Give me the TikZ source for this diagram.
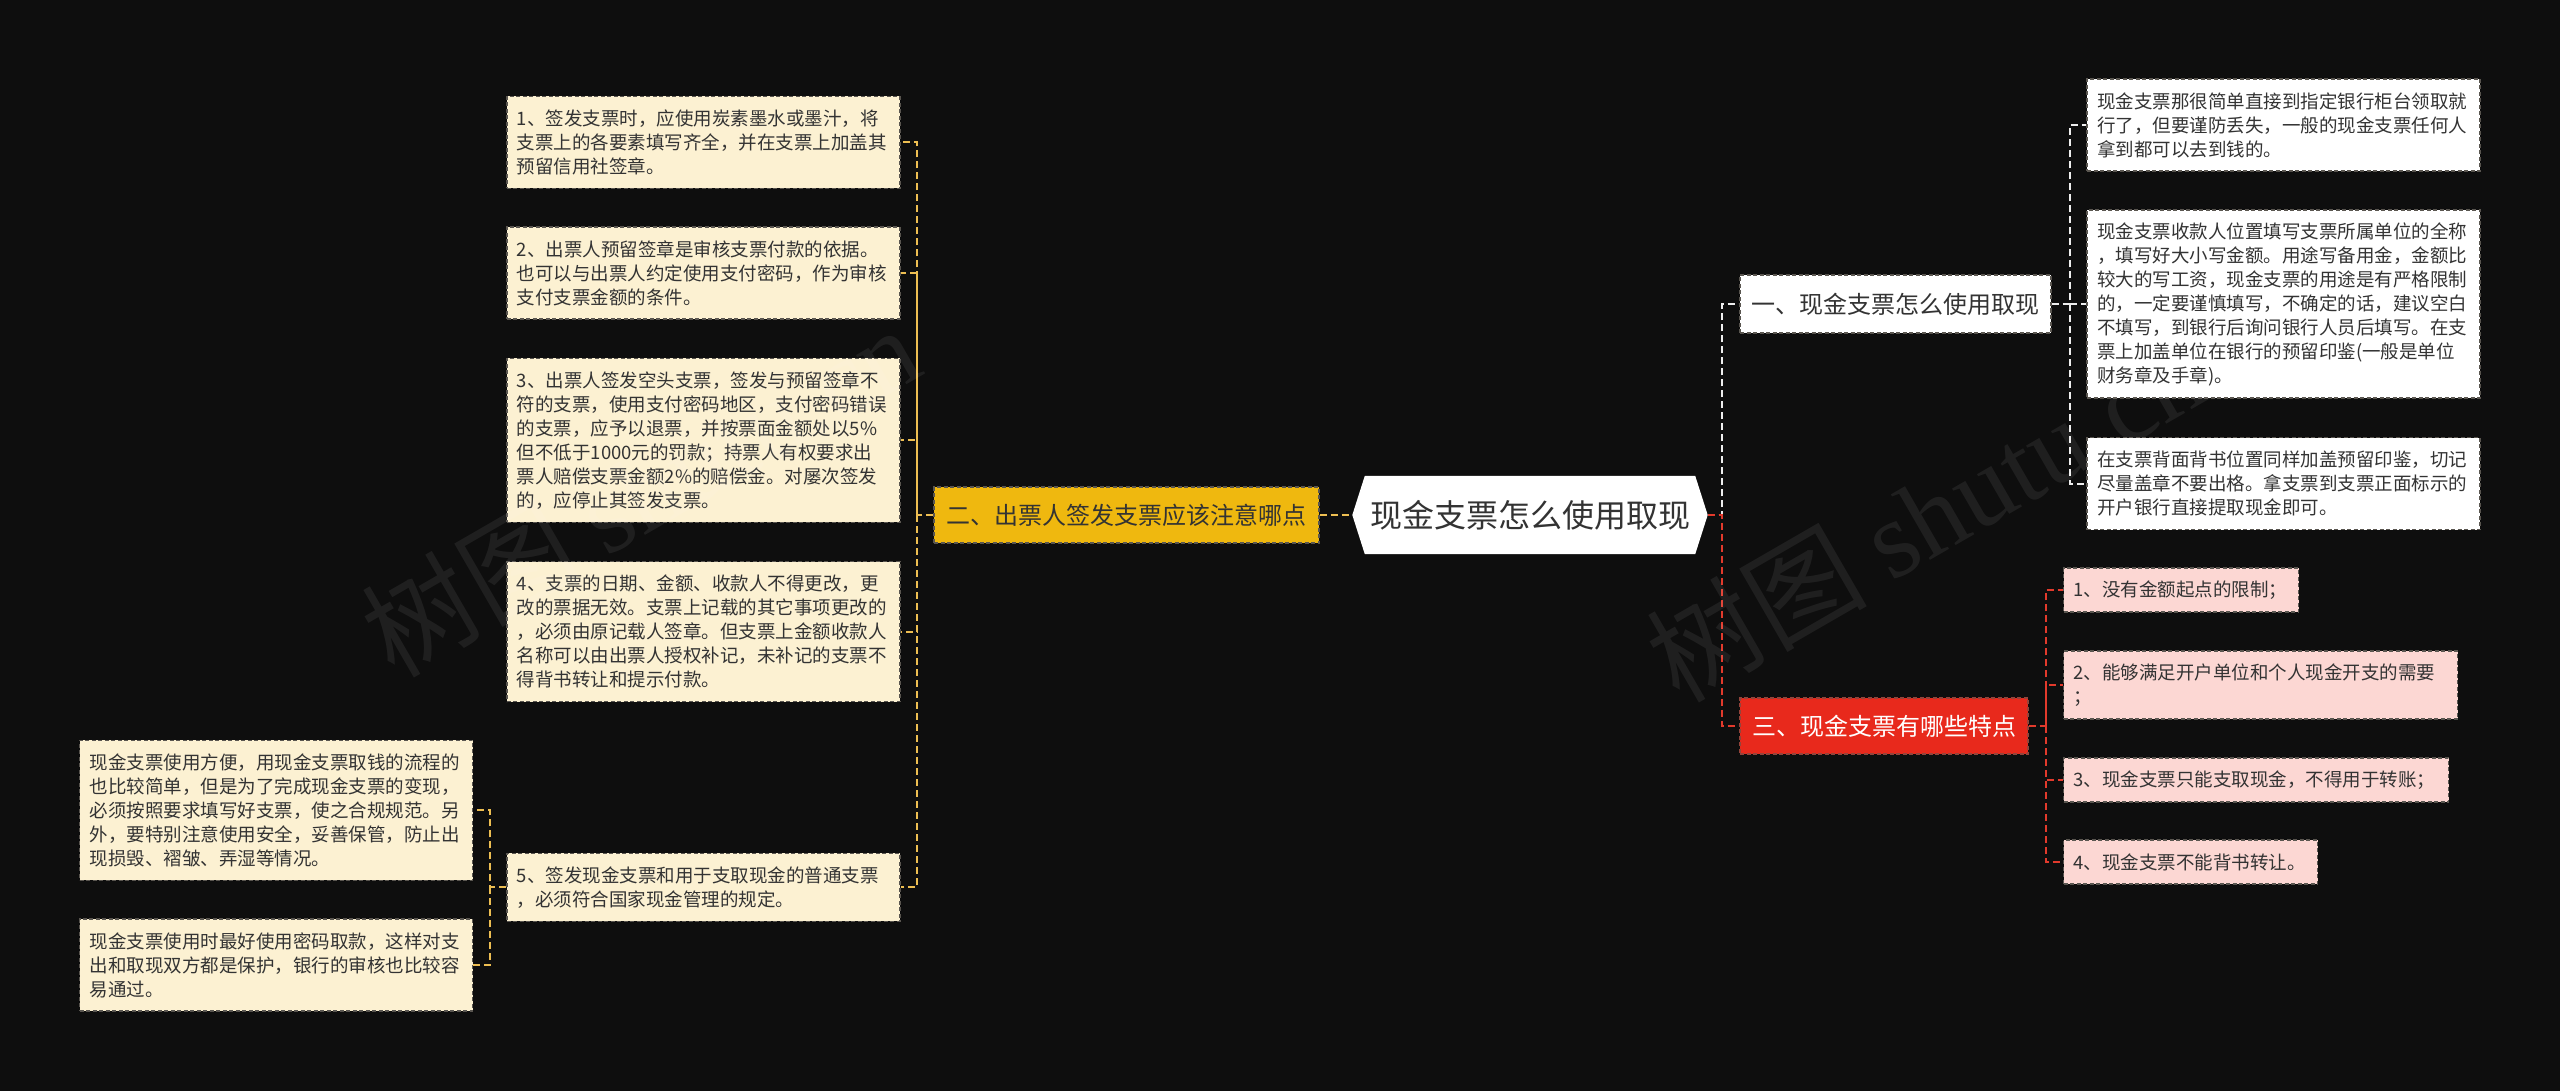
\documentclass[tikz,border=0pt]{standalone}
\usepackage{fontspec}
\setmainfont{Noto Sans CJK SC}
\newfontfamily\wmfont{Liberation Serif}
\usetikzlibrary{calc,backgrounds}
\definecolor{bg}{HTML}{0E0E0E}
\definecolor{txt}{HTML}{333333}
\definecolor{cream}{HTML}{FCF1D2}
\definecolor{pinkf}{HTML}{FCD7D3}
\definecolor{edge}{HTML}{5A5650}
\definecolor{yel}{HTML}{EFB80F}
\definecolor{yline}{HTML}{EDBE52}
\definecolor{redf}{HTML}{E8291C}
\definecolor{rline}{HTML}{E23A2C}
\definecolor{wline}{HTML}{EEEEEE}
\begin{document}
\begin{tikzpicture}[x=1pt,y=-1pt,
  cjkbox/.style={rectangle, inner sep=0pt, align=left, text=txt, line width=1.4pt,
    dash pattern=on 4pt off 2.5pt, font=\fontsize{18.5pt}{24pt}\selectfont},
  cream/.style={cjkbox, fill=cream, draw=edge},
  whitebox/.style={cjkbox, fill=white, draw=edge},
  pinkbox/.style={cjkbox, fill=pinkf, draw=edge},
  wide/.style={minimum width=393pt, text width=373pt},
  topic/.style={rectangle, inner sep=0pt, align=center, line width=1.4pt,
    dash pattern=on 4pt off 2.5pt, font=\fontsize{24pt}{28pt}\selectfont},
  link/.style={line width=2pt, dash pattern=on 7pt off 4pt},
  wmark/.style={rotate=30, text=white, opacity=0.07, font=\fontsize{110pt}{110pt}\selectfont}
]
\useasboundingbox (0,0) rectangle (2560,1091);

% central node
\node[rectangle, minimum width=330pt, minimum height=78pt, inner sep=0pt,
      font=\fontsize{32pt}{36pt}\selectfont, text=txt] (c) at (1530,515) {现金支票怎么使用取现};
\coordinate (cL) at ($(c.west)+(-12.5,0)$);
\coordinate (cR) at ($(c.east)+(12.5,0)$);
\begin{pgfonlayer}{background}
  \fill[bg] (0,0) rectangle (2560,1091);
  \fill[white] (c.north west) -- (c.north east) -- (cR) -- (c.south east) -- (c.south west) -- (cL) -- cycle;
\end{pgfonlayer}

% main topics
\node[topic, fill=yel, draw=edge, text=txt, minimum width=385pt, minimum height=56pt] (n2) at (1126.5,515) {二、出票人签发支票应该注意哪点};
\node[topic, fill=white, draw=edge, text=txt, minimum width=311pt, minimum height=58pt] (n1) at (1895.5,304) {一、现金支票怎么使用取现};
\node[topic, fill=redf, draw=edge!60!redf, text=white, minimum width=288pt, minimum height=56pt] (n3) at (1884,726) {三、现金支票有哪些特点};

% left children
\node[cream, wide, minimum height=92pt] (l1) at (703.3,142.5) {1、签发支票时，应使用炭素墨水或墨汁，将\\支票上的各要素填写齐全，并在支票上加盖其\\预留信用社签章。};
\node[cream, wide, minimum height=92pt] (l2) at (703.3,273) {2、出票人预留签章是审核支票付款的依据。\\也可以与出票人约定使用支付密码，作为审核\\支付支票金额的条件。};
\node[cream, wide, minimum height=164pt] (l3) at (703.3,440.3) {3、出票人签发空头支票，签发与预留签章不\\符的支票，使用支付密码地区，支付密码错误\\的支票，应予以退票，并按票面金额处以5\%\\但不低于1000元的罚款；持票人有权要求出\\票人赔偿支票金额2\%的赔偿金。对屡次签发\\的，应停止其签发支票。};
\node[cream, wide, minimum height=140pt] (l4) at (703.3,631.7) {4、支票的日期、金额、收款人不得更改，更\\改的票据无效。支票上记载的其它事项更改的\\，必须由原记载人签章。但支票上金额收款人\\名称可以由出票人授权补记，未补记的支票不\\得背书转让和提示付款。};
\node[cream, wide, minimum height=68pt] (l5) at (703.3,887.3) {5、签发现金支票和用于支取现金的普通支票\\，必须符合国家现金管理的规定。};

\node[cream, wide, minimum height=140pt] (a1) at (276,810.3) {现金支票使用方便，用现金支票取钱的流程的\\也比较简单，但是为了完成现金支票的变现，\\必须按照要求填写好支票，使之合规规范。另\\外，要特别注意使用安全，妥善保管，防止出\\现损毁、褶皱、弄湿等情况。};
\node[cream, wide, minimum height=92pt] (a2) at (276,965) {现金支票使用时最好使用密码取款，这样对支\\出和取现双方都是保护，银行的审核也比较容\\易通过。};

% right top children
\node[whitebox, wide, minimum height=92pt] (r1) at (2283.5,125) {现金支票那很简单直接到指定银行柜台领取就\\行了，但要谨防丢失，一般的现金支票任何人\\拿到都可以去到钱的。};
\node[whitebox, wide, minimum height=188pt] (r2) at (2283.5,304) {现金支票收款人位置填写支票所属单位的全称\\，填写好大小写金额。用途写备用金，金额比\\较大的写工资，现金支票的用途是有严格限制\\的，一定要谨慎填写，不确定的话，建议空白\\不填写，到银行后询问银行人员后填写。在支\\票上加盖单位在银行的预留印鉴(一般是单位\\财务章及手章)。};
\node[whitebox, wide, minimum height=92pt] (r3) at (2283.5,483.7) {在支票背面背书位置同样加盖预留印鉴，切记\\尽量盖章不要出格。拿支票到支票正面标示的\\开户银行直接提取现金即可。};

% right bottom children
\node[pinkbox, anchor=west, minimum width=235pt, text width=215pt, minimum height=44pt] (p1) at (2063,590) {1、没有金额起点的限制；};
\node[pinkbox, anchor=west, minimum width=394pt, text width=374pt, minimum height=68pt] (p2) at (2063,685) {2、能够满足开户单位和个人现金开支的需要\\；};
\node[pinkbox, anchor=west, minimum width=385pt, text width=365pt, minimum height=44pt] (p3) at (2063,780) {3、现金支票只能支取现金，不得用于转账；};
\node[pinkbox, anchor=west, minimum width=254pt, text width=234pt, minimum height=44pt] (p4) at (2063,862) {4、现金支票不能背书转让。};

% junctions
\coordinate (jL) at (917,515);
\coordinate (j5) at (490,887.3);
\coordinate (jR) at (1722,515);
\coordinate (j1) at (2070,304);
\coordinate (j3) at (2046,726);

% connectors
\begin{scope}[on background layer]
\draw[link, yline] (n2.east) -- (cL);
\draw[link, yline] (n2.west) -- (jL) |- (l1.east);
\draw[link, yline] (jL) |- (l2.east);
\draw[link, yline] (jL) |- (l3.east);
\draw[link, yline] (jL) |- (l4.east);
\draw[link, yline] (jL) |- (l5.east);
\draw[link, yline] (l5.west) -- (j5) |- (a1.east);
\draw[link, yline] (j5) |- (a2.east);
\draw[link, wline] (cR) -- (jR) |- (n1.west);
\draw[link, rline] (cR) -- (jR) |- (n3.west);
\draw[link, wline] (n1.east) -- (j1) |- (r1.west);
\draw[link, wline] (j1) -- (r2.west);
\draw[link, wline] (j1) |- (r3.west);
\draw[link, rline] (n3.east) -- (j3) |- (p1.west);
\draw[link, rline] (j3) |- (p2.west);
\draw[link, rline] (j3) |- (p3.west);
\draw[link, rline] (j3) |- (p4.west);
\end{scope}

% watermarks
\node[wmark] (w1) at (640,490) {树图 {\wmfont shutu.cn}};
\node[wmark] (w2) at (1925,515) {树图 {\wmfont shutu.cn}};
\end{tikzpicture}
\end{document}
